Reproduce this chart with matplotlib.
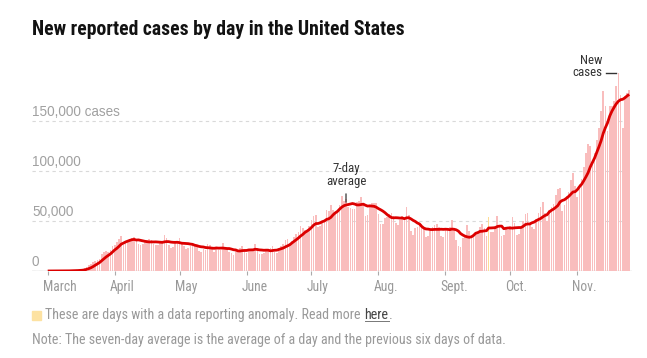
import matplotlib
matplotlib.use("Agg")
import matplotlib.pyplot as plt
import matplotlib.transforms as mtransforms
from matplotlib import font_manager as fm
from matplotlib.lines import Line2D
import numpy as np
import pandas as pd

# ---------------- data ----------------
start_date = "2020-03-01"
new_cases = [
    # Mar 1-7
    15, 25, 30, 35, 65, 85, 110,
    # Mar 8-14
    140, 190, 260, 300, 430, 550, 700,
    # Mar 15-21
    780, 1100, 1500, 2600, 4300, 5700, 6800,
    # Mar 22-28
    9000, 10300, 10800, 12500, 17200, 18600, 19800,
    # Mar 29-Apr 4
    19500, 21000, 24800, 26400, 28900, 32300, 35000,
    # Apr 5-11
    26500, 29200, 30800, 31900, 33400, 34200, 30800,
    # Apr 12-18
    27400, 25800, 26700, 29500, 30700, 32500, 31200,
    # Apr 19-25
    27000, 26300, 25800, 28300, 29400, 36000, 33200,
    # Apr 26-May 2
    26500, 23100, 24300, 27900, 30100, 33400, 29300,
    # May 3-9
    25200, 22100, 23400, 25100, 28100, 27300, 26000,
    # May 10-16
    20300, 19200, 22200, 21200, 27200, 25800, 24100,
    # May 17-23
    19200, 21700, 20800, 21300, 27800, 24100, 22300,
    # May 24-30
    19100, 18000, 16200, 19800, 21300, 23300, 24900,
    # May 31-Jun 6
    20200, 18100, 19900, 20300, 21400, 27500, 23100,
    # Jun 7-13
    17400, 17200, 18200, 21100, 21300, 23000, 25300,
    # Jun 14-20
    19200, 18000, 23100, 25300, 27000, 31400, 32200,
    # Jun 21-27
    27100, 30300, 34100, 37000, 39100, 45200, 43100,
    # Jun 28-Jul 4
    41200, 39800, 45100, 50800, 55400, 56200, 44100,
    # Jul 5-11
    45300, 48100, 50300, 61500, 60100, 66200, 61200,
    # Jul 12-18
    59200, 58200, 66100, 75500, 70100, 71900, 64100,
    # Jul 19-25
    62900, 61800, 62500, 69300, 70100, 74200, 67100,
    # Jul 26-Aug 1
    55200, 56000, 64200, 67800, 68300, 68100, 57200,
    # Aug 2-8
    47200, 47000, 53100, 54200, 57300, 58200, 55100,
    # Aug 9-15
    48200, 46100, 51200, 55300, 52100, 64100, 56200,
    # Aug 16-22
    40200, 36100, 43200, 44300, 45100, 47200, 44100,
    # Aug 23-29
    34200, 35100, 40200, 44100, 46300, 47200, 44300,
    # Aug 30-Sep 5
    35200, 34100, 41200, 43300, 44100, 51200, 43100,
    # Sep 6-12
    31200, 25100, 24200, 33300, 36100, 46200, 40100,
    # Sep 13-19
    34200, 35100, 39200, 38300, 44100, 47200, 43100,
    # Sep 20-26
    35200, 54100, 39200, 39300, 45100, 55200, 46100,
    # Sep 27-Oct 3
    35200, 36100, 42200, 41300, 45100, 54200, 48100,
    # Oct 4-10
    36200, 37100, 42200, 50300, 57100, 58200, 48100,
    # Oct 11-17
    44200, 42100, 52200, 58300, 64100, 69200, 58000,
    # Oct 18-24
    50000, 61000, 64000, 67000, 76000, 82200, 83000,
    # Oct 25-31
    60200, 66100, 75200, 79300, 91100, 98200, 85100,
    # Nov 1-7
    74200, 87100, 92200, 104300, 118100, 127200, 125100,
    # Nov 8-14
    106200, 118100, 131200, 143300, 160000, 180000, 165000,
    # Nov 15-21
    140000, 165000, 165000, 170000, 185000, 198000, 176000,
    # Nov 22-25
    143000, 175000, 178000, 181000,
]
anomaly_dates = ["2020-09-21"]
month_labels = ["March", "April", "May", "June", "July", "Aug.", "Sept.", "Oct.", "Nov."]
ytick_values = [0, 50000, 100000, 150000]
ytick_labels = ["0", "50,000", "100,000", "150,000 cases"]

title = "New reported cases by day in the United States"
legend_note = "These are days with a data reporting anomaly. Read more"
legend_link = "here"
footnote = "Note: The seven-day average is the average of a day and the previous six days of data."

# ---------------- derived ----------------
dates = pd.date_range(start_date, periods=len(new_cases), freq="D")
day = np.arange(len(new_cases))
cases = pd.Series(new_cases, index=dates, dtype=float)
avg7 = cases.rolling(7, min_periods=1).mean().values
is_anom = dates.isin(pd.to_datetime(anomaly_dates))
month_starts = pd.date_range(start_date, dates[-1], freq="MS")
month_pos = np.asarray((month_starts - dates[0]).days)

# ---------------- fonts ----------------
names = {f.name for f in fm.fontManager.ttflist}
NARROW = next((n for n in ["Liberation Sans Narrow", "Roboto Condensed",
                           "Open Sans Condensed", "Roboto"] if n in names), "DejaVu Sans")
SANS = "Liberation Sans" if "Liberation Sans" in names else "DejaVu Sans"

# ---------------- figure ----------------
W, H, DPI = 647, 358, 100
fig = plt.figure(figsize=(W / DPI, H / DPI), dpi=DPI)
fig.patch.set_facecolor("white")


def fx(px):
    return px / W


def fy(py):
    return 1 - py / H


renderer = fig.canvas.get_renderer()


def fit_size(s, family, target_px, weight="normal", base=10):
    t = fig.text(0, 0, s, family=family, fontsize=base, weight=weight)
    w = t.get_window_extent(renderer).width
    t.remove()
    return base * target_px / w


ax = fig.add_axes([fx(32), fy(271), fx(632) - fx(32), fy(60) - fy(271)])
px_per_day = (577.3 - 47.7) / 245.0
ax.set_xlim(-(47.7 - 32) / px_per_day, (632 - 47.7) / px_per_day)
ax.set_ylim(0, 211000)

bar_colors = np.where(is_anom, "#fddc95", "#f9bdbd")
ax.bar(day, new_cases, width=0.76, color=bar_colors, linewidth=0, zorder=2)
ax.plot(day, avg7, color="#dc0000", lw=2.0, zorder=4, solid_capstyle="butt")

for s in ax.spines.values():
    s.set_visible(False)
ax.axhline(0, color="#cccccc", lw=1.0, zorder=1)
ax.set_axisbelow(True)
ax.yaxis.grid(True, color="#d9d9d9", lw=0.8, linestyle=(0, (3, 3)))
ax.xaxis.grid(False)

# y ticks (labels inside, above grid lines)
ysize = fit_size("150,000 cases", SANS, 88)
ax.set_yticks(ytick_values)
ax.set_yticklabels(ytick_labels, family=SANS, fontsize=ysize, color="#a0a0a0")
ax.tick_params(axis="y", length=0, pad=0)
yoff = mtransforms.ScaledTranslation(0, 5 / DPI, fig.dpi_scale_trans)
for lab in ax.get_yticklabels():
    lab.set_horizontalalignment("left")
    lab.set_verticalalignment("baseline")
    lab.set_transform(lab.get_transform() + yoff)

# x ticks
xsize = fit_size("March", NARROW, 34)
ax.set_xticks(month_pos)
ax.set_xticklabels(month_labels, family=NARROW, fontsize=xsize, color="#999999")
ax.tick_params(axis="x", length=4 * 72 / DPI, width=0.8, color="#aaaaaa", pad=3.5)
xoff = mtransforms.ScaledTranslation(-5 / DPI, 0, fig.dpi_scale_trans)
for lab in ax.get_xticklabels():
    lab.set_horizontalalignment("left")
    lab.set_transform(lab.get_transform() + xoff)

# annotations
asize = fit_size("average", NARROW, 40)
i_peak = int(np.where(dates == pd.Timestamp("2020-07-17"))[0][0])
ax.annotate("7-day\naverage", xy=(day[i_peak], avg7[i_peak]), xytext=(0, 12.5),
            textcoords="offset points", ha="center", va="bottom", family=NARROW,
            fontsize=asize, color="#333333", linespacing=0.95, zorder=6,
            arrowprops=dict(arrowstyle="-", color="#333333", lw=0.9,
                            shrinkA=2.5, shrinkB=2.0))

i_spike = int(np.argmax(new_cases))
spike_disp = ax.transData.transform((day[i_spike], new_cases[i_spike]))
ax.text(spike_disp[0] - 15.5, spike_disp[1] + 6.5, "New\ncases", ha="right", va="center",
        multialignment="right", family=NARROW, fontsize=asize, color="#333333",
        linespacing=0.95, zorder=6, transform=mtransforms.IdentityTransform())
ax.add_line(Line2D([spike_disp[0] - 12.5, spike_disp[0] - 2.5],
                   [spike_disp[1] + 0.5, spike_disp[1] + 0.5],
                   transform=mtransforms.IdentityTransform(), color="#333333",
                   lw=1.0, zorder=6, clip_on=False))

# title
tsize = fit_size(title, NARROW, 373, weight="bold", base=14)
fig.text(fx(32), fy(35), title, family=NARROW, weight="bold", fontsize=tsize,
         color="#121212", ha="left", va="baseline")

# legend line
lsize = fit_size(legend_note + " " + legend_link + ".", NARROW, 346)
fig.patches.append(plt.Rectangle((fx(32), fy(320)), fx(8.5), 9 / H,
                                 transform=fig.transFigure, color="#fde2a2", zorder=3))
t1 = fig.text(fx(45.5), fy(315), legend_note, family=NARROW, fontsize=lsize,
              color="#999999", ha="left", va="center")
e1 = t1.get_window_extent(renderer)
space_px = lsize * DPI / 72 * 0.25
x2 = e1.x1 + space_px
t2 = fig.text(x2 / W, fy(315), legend_link, family=NARROW, fontsize=lsize,
              color="#444444", ha="left", va="center")
e2 = t2.get_window_extent(renderer)
fig.text(e2.x1 / W, fy(315), ".", family=NARROW, fontsize=lsize,
         color="#999999", ha="left", va="center")
fig.lines.append(Line2D([e2.x0 / W, e2.x1 / W], [fy(321), fy(321)],
                        transform=fig.transFigure, color="#777777", lw=0.7))

# footnote
nsize = fit_size(footnote, NARROW, 470)
fig.text(fx(32), fy(340), footnote, family=NARROW, fontsize=nsize,
         color="#999999", ha="left", va="center")

fig.savefig("out.png", dpi=DPI, facecolor="white")
